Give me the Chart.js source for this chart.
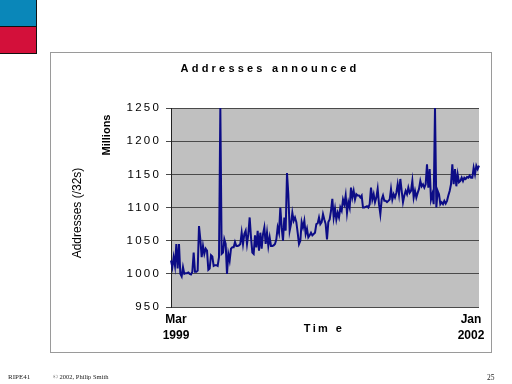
<!DOCTYPE html>
<html>
<head>
<meta charset="utf-8">
<script src="https://cdn.jsdelivr.net/npm/chart.js@4"></script>
<style>
  html, body { margin: 0; padding: 0; background: #fff; }
  #page { position: relative; width: 512px; height: 384px; overflow: hidden; font-family: "Liberation Sans", Arial, sans-serif; }
  #barChart { position: absolute; left: 0; top: 0; }
  .sq { position: absolute; left: 0; width: 36px; border-right: 1px solid #111; border-bottom: 1px solid #111; }
  .frame { position: absolute; left: 50px; top: 52px; width: 440px; height: 299px; border: 1px solid #9a9a9a; }
  .txt { position: absolute; white-space: nowrap; color: #000; }
  .rot { transform: translate(-50%, -50%) rotate(-90deg); }
  .foot { position: absolute; font-family: "Liberation Serif", "Times New Roman", serif; color: #222; }
</style>
</head>
<body>
<div id="page">
  <div class="sq" style="top:0;height:26px;background:#0a87b9;"></div>
  <div class="sq" style="top:27px;height:26px;background:#d3103a;"></div>
  <div class="frame"></div>
  <canvas id="barChart" width="512" height="384"></canvas>
  <div class="txt" id="title" style="left:270px;top:68px;transform:translate(-50%,-50%);font-weight:bold;font-size:11px;letter-spacing:3.2px;">Addresses announced</div>
  <div class="txt rot" style="left:106px;top:135px;font-weight:bold;font-size:11px;">Millions</div>
  <div class="txt rot" style="left:77px;top:213px;font-size:12px;">Addresses (/32s)</div>
  <div class="txt" id="startLbl" style="left:176px;top:327px;transform:translate(-50%,-50%);font-weight:bold;font-size:12px;text-align:center;line-height:16px;"></div>
  <div class="txt" id="endLbl" style="left:471px;top:327px;transform:translate(-50%,-50%);font-weight:bold;font-size:12px;text-align:center;line-height:16px;"></div>
  <div class="txt" style="left:324px;top:328px;transform:translate(-50%,-50%);font-weight:bold;font-size:11px;letter-spacing:2.4px;">Tim e</div>
  <div class="foot" style="left:8px;top:373px;font-size:7px;">RIPE41</div>
  <div class="foot" style="left:53px;top:373px;font-size:6.5px;">© 2002, Philip Smith</div>
  <div class="foot" style="left:487px;top:373px;font-size:7.5px;">25</div>
</div>
<script>
// addresses announced, millions of /32s, sampled along the time axis
const addresses = [
  1020, 1010, 1025, 1012, 1045, 1008, 1045, 1000, 996, 1010,
  1000, 1001, 1001, 1002, 1000, 999, 1003, 1032, 1003, 1003,
  1005, 1072, 1052, 1025, 1042, 1030, 1038, 1035, 1006, 1008,
  1028, 1026, 1012, 1013, 1013, 1012, 1025, 1250, 1030, 1032,
  1052, 1045, 1000, 1030, 1020, 1038, 1040, 1040, 1048, 1042,
  1042, 1043, 1045, 1062, 1045, 1060, 1065, 1045, 1060, 1085,
  1055, 1032, 1030, 1058, 1040, 1065, 1035, 1062, 1038, 1060,
  1070, 1045, 1062, 1042, 1055, 1042, 1042, 1043, 1045, 1052,
  1070, 1062, 1100, 1070, 1050, 1085, 1065, 1152, 1120, 1065,
  1075, 1092, 1080, 1085, 1078, 1062, 1045, 1050, 1078, 1070,
  1080, 1060, 1068, 1055, 1058, 1062, 1058, 1060, 1062, 1075,
  1076, 1085, 1075, 1078, 1090, 1082, 1075, 1052, 1078, 1082,
  1095, 1113, 1085, 1098, 1082, 1092, 1085, 1100, 1095, 1112,
  1105, 1118, 1092, 1108, 1100, 1130, 1115, 1125, 1112, 1120,
  1118, 1118, 1115, 1118, 1100, 1100, 1101, 1102, 1100, 1105,
  1130, 1112, 1120, 1108, 1115, 1128, 1105, 1090, 1112, 1118,
  1110, 1110, 1108, 1110, 1112, 1128, 1112, 1120, 1115, 1122,
  1135, 1120, 1143, 1125, 1108, 1118, 1125, 1120, 1130, 1122,
  1125, 1140, 1115, 1125, 1115, 1122, 1128, 1140, 1132, 1135,
  1130, 1135, 1165, 1130, 1158, 1112, 1120, 1105, 1250, 1100,
  1125, 1120, 1105, 1108, 1105, 1110, 1106, 1110, 1118, 1125,
  1135, 1165, 1135, 1158, 1132, 1150, 1138, 1140, 1145, 1140,
  1145, 1143, 1146, 1145, 1148, 1145, 1145, 1160, 1150, 1163,
  1158, 1163
];
const samples = addresses.map((v, i) => i);
const axisEnds = ['Mar 1999', 'Jan 2002'];
const yMin = 950;
const yMax = 1250;
const yStep = 50;

document.getElementById('startLbl').innerHTML = axisEnds[0].split(' ').join('<br>');
document.getElementById('endLbl').innerHTML = axisEnds[1].split(' ').join('<br>');

const plotBg = {
  id: 'plotBg',
  beforeDraw(chart) {
    const { ctx, chartArea: a } = chart;
    ctx.save();
    ctx.fillStyle = '#c0c0c0';
    ctx.fillRect(a.left, a.top, a.right - a.left, a.bottom - a.top);
    ctx.restore();
    // tick labels are spaced out like the original
    ctx.letterSpacing = '2.2px';
  }
};

const ctx = document.getElementById('barChart').getContext('2d');
new Chart(ctx, {
  type: 'line',
  data: {
    labels: samples,
    datasets: [{
      label: 'Addresses',
      data: addresses,
      borderColor: '#0c0c86',
      borderWidth: 2,
      pointRadius: 0,
      tension: 0,
      fill: false
    }]
  },
  options: {
    responsive: false,
    animation: false,
    layout: { padding: { left: 0, top: 108, right: 33, bottom: 77 } },
    plugins: {
      legend: { display: false },
      title: { display: false },
      tooltip: { enabled: false }
    },
    scales: {
      x: { display: false },
      y: {
        min: yMin,
        max: yMax,
        afterFit: function (scale) { scale.width = 171; },
        ticks: {
          stepSize: yStep,
          padding: 5,
          color: '#000',
          font: { family: '"Liberation Sans", Arial, sans-serif', size: 11.5 },
          callback: function (value) { return String(value); }
        },
        grid: { color: '#4a4a4a', tickLength: 5, tickColor: '#4a4a4a' },
        border: { color: '#222', width: 1 }
      }
    }
  },
  plugins: [plotBg]
});
</script>
</body>
</html>
